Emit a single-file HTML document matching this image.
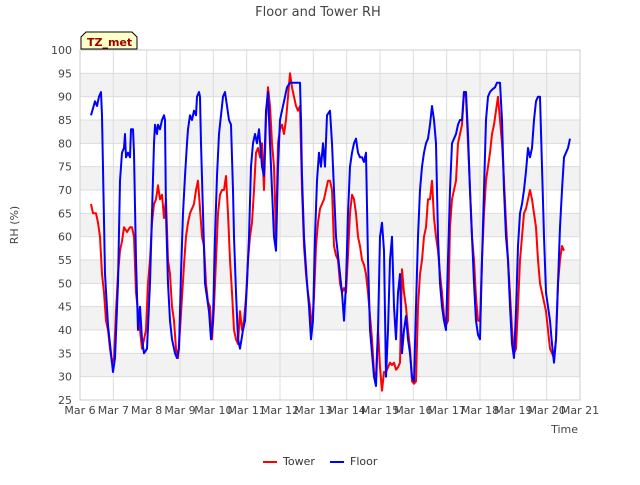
<!DOCTYPE html>
<html><head><meta charset="utf-8"><style>
body{margin:0;background:#fff;font-family:"Liberation Sans","DejaVu Sans",sans-serif}
svg text{font-family:"DejaVu Sans","Liberation Sans",sans-serif}
</style></head><body>
<svg id="chart" width="640" height="480" xmlns="http://www.w3.org/2000/svg">
<text x="318" y="16" text-anchor="middle" font-size="13" fill="#444">Floor and Tower RH</text>
<text x="18" y="225" text-anchor="middle" font-size="11" fill="#444" transform="rotate(-90 18 225)">RH (%)</text>
<text x="578" y="433" text-anchor="end" font-size="11" fill="#444">Time</text>
<g id="grid"></g><g id="series"></g><g id="axes"></g>
<g>
<path d="M81,49 L81,37 L86,32 L132,32 L137,37 L137,49 Z" fill="#ffffc8" stroke="#000" stroke-width="1"/>
<text x="87" y="46" font-size="11" font-weight="bold" fill="#a00000">TZ_met</text></g>
<g>
<line x1="263" y1="462" x2="277" y2="462" stroke="#f00" stroke-width="2"/>
<text x="283" y="465" font-size="11" fill="#333">Tower</text>
<line x1="330" y1="462" x2="344" y2="462" stroke="#00f" stroke-width="2"/>
<text x="350" y="465" font-size="11" fill="#333">Floor</text></g>
</svg>
<script>
const xTickLabels=["Mar 6","Mar 7","Mar 8","Mar 9","Mar 10","Mar 11","Mar 12","Mar 13","Mar 14","Mar 15","Mar 16","Mar 17","Mar 18","Mar 19","Mar 20","Mar 21"];
const yTicks=[25,30,35,40,45,50,55,60,65,70,75,80,85,90,95,100];
const floorT=[.33,.45,.51,.57,.63,.66,.75,.84,.90,.99,1.05,1.14,1.20,1.26,1.32,1.35,1.38,1.44,1.50,1.53,1.59,1.62,1.68,1.74,1.80,1.86,1.92,2.01,2.10,2.16,2.22,2.25,2.31,2.34,2.40,2.46,2.52,2.55,2.58,2.64,2.70,2.76,2.85,2.91,2.97,3.03,3.09,3.15,3.21,3.24,3.30,3.36,3.42,3.48,3.51,3.57,3.60,3.63,3.69,3.75,3.81,3.87,3.93,3.99,4.05,4.11,4.17,4.23,4.29,4.35,4.41,4.47,4.53,4.59,4.62,4.68,4.74,4.80,4.89,4.95,5.01,5.07,5.13,5.19,5.25,5.31,5.37,5.46,5.52,5.58,5.64,5.70,5.76,5.82,5.88,5.94,6.00,6.09,6.15,6.21,6.30,6.45,6.60,6.63,6.66,6.72,6.81,6.87,6.93,6.99,7.05,7.11,7.17,7.23,7.29,7.35,7.41,7.50,7.56,7.62,7.68,7.74,7.80,7.86,7.92,7.98,8.04,8.10,8.16,8.22,8.28,8.34,8.40,8.46,8.52,8.58,8.64,8.70,8.76,8.82,8.88,8.94,9.00,9.06,9.12,9.18,9.24,9.30,9.36,9.42,9.48,9.54,9.60,9.66,9.72,9.78,9.84,9.90,9.96,10.02,10.08,10.14,10.20,10.26,10.32,10.38,10.44,10.50,10.56,10.62,10.68,10.74,10.80,10.86,10.92,10.98,11.04,11.10,11.16,11.22,11.28,11.34,11.40,11.46,11.52,11.58,11.64,11.70,11.76,11.82,11.88,11.94,12.00,12.06,12.12,12.18,12.24,12.30,12.36,12.45,12.51,12.60,12.66,12.72,12.78,12.84,12.90,12.96,13.02,13.08,13.14,13.20,13.26,13.32,13.38,13.44,13.50,13.56,13.62,13.68,13.74,13.80,13.86,13.92,13.98,14.04,14.10,14.16,14.22,14.28,14.34,14.40,14.46,14.52,14.58,14.64,14.70];
const floorV=[86,89,88,90,91,86,52,41,37,31,34,50,72,78,79,82,77,78,77,83,83,78,55,40,45,38,35,36,50,65,80,84,82,84,83,85,86,85,65,50,42,38,35,34,36,52,65,73,80,83,86,85,87,86,90,91,90,80,65,50,47,44,38,42,60,73,82,86,90,91,88,85,84,70,60,48,38,36,40,42,50,60,75,80,82,80,83,75,73,87,91,80,70,60,57,75,85,88,90,92,93,93,93,85,73,60,50,45,38,42,60,72,78,75,80,75,86,87,80,70,60,56,52,48,42,50,65,75,78,80,81,78,77,77,76,78,55,40,35,30,28,40,60,63,57,30,40,55,60,45,38,48,52,35,40,43,38,35,30,29,45,60,70,75,78,80,81,84,88,85,80,60,50,45,42,40,55,70,80,81,82,84,85,85,91,91,82,70,60,50,42,39,38,55,70,85,90,91,91.5,92,93,93,85,70,60,55,45,37,34,44,58,65,67,70,74,79,77,79,85,89,90,90,75,60,48,45,42,37,33,38,50,62,70,77,78,79,81];
const towerT=[.33,.39,.48,.54,.60,.66,.72,.78,.84,.90,.96,1.02,1.08,1.14,1.20,1.26,1.32,1.41,1.50,1.56,1.62,1.68,1.74,1.80,1.86,1.92,1.98,2.04,2.10,2.16,2.22,2.28,2.34,2.40,2.46,2.52,2.58,2.64,2.70,2.76,2.82,2.88,2.94,3.00,3.06,3.12,3.18,3.24,3.30,3.36,3.42,3.48,3.54,3.60,3.66,3.72,3.78,3.84,3.90,3.96,4.02,4.08,4.14,4.20,4.26,4.32,4.38,4.44,4.50,4.56,4.62,4.68,4.74,4.80,4.86,4.92,4.98,5.04,5.10,5.16,5.22,5.28,5.34,5.40,5.46,5.52,5.58,5.64,5.70,5.76,5.82,5.88,5.94,6.00,6.06,6.12,6.18,6.24,6.30,6.36,6.42,6.48,6.54,6.60,6.66,6.72,6.78,6.84,6.90,6.96,7.02,7.08,7.14,7.20,7.26,7.32,7.38,7.44,7.50,7.56,7.62,7.68,7.74,7.80,7.86,7.92,7.98,8.04,8.10,8.16,8.22,8.28,8.34,8.40,8.46,8.52,8.58,8.64,8.70,8.76,8.82,8.88,8.94,9.00,9.06,9.12,9.18,9.24,9.30,9.36,9.42,9.48,9.54,9.60,9.66,9.72,9.78,9.84,9.90,9.96,10.02,10.08,10.14,10.20,10.26,10.32,10.38,10.44,10.50,10.56,10.62,10.68,10.74,10.80,10.86,10.92,10.98,11.04,11.10,11.16,11.22,11.28,11.34,11.40,11.46,11.52,11.58,11.64,11.70,11.76,11.82,11.88,11.94,12.00,12.06,12.12,12.18,12.24,12.30,12.36,12.42,12.48,12.54,12.60,12.66,12.72,12.78,12.84,12.90,12.96,13.02,13.08,13.14,13.20,13.26,13.32,13.38,13.44,13.50,13.56,13.62,13.68,13.74,13.80,13.86,13.92,13.98,14.04,14.10,14.16,14.22,14.28,14.34,14.40,14.46,14.52];
const towerV=[67,65,65,63,60,52,48,42,40,36,33,34,44,52,57,59,62,61,62,62,60,48,44,40,36,38,40,50,55,63,67,68,71,68,69,64,68,55,52,45,42,36,34,40,47,54,60,63,65,66,67,70,72,66,60,58,50,46,45,38,45,55,65,69,70,70,73,65,55,48,40,38,37,44,40,42,47,55,60,63,70,78,79,77,80,70,85,92,88,80,75,60,80,83,84,82,85,90,95,92,90,88,87,88,70,58,52,48,45,40,47,58,63,66,67,68,70,72,72,70,58,56,55,50,48,49,48,56,65,69,68,65,60,58,55,54,52,48,43,38,31,30,40,32,27,31,31,32,33,32.5,33,31.5,32,33,53,48,45,40,36,29,28.5,29,45,52,55,60,62,68,68,72,64,60,57,52,48,43,41,42,62,68,70,72,80,82,84,91,90,80,70,60,55,47,42,42,55,65,72,75,78,82,84,87,90,85,80,72,63,55,48,40,35,36,45,55,60,65,66,68,70,68,65,62,55,50,48,46,44,40,36,35,34,38,50,55,58,57];

const NS="http://www.w3.org/2000/svg";
const L=80,R=580,T=50,B=400;
const xS=d=>L+d*(R-L)/15;
const yS=v=>B-(v-25)*(B-T)/75;
function mk(tag,attrs,parent){const e=document.createElementNS(NS,tag);for(const k in attrs)e.setAttribute(k,attrs[k]);parent.appendChild(e);return e;}
const grid=document.getElementById('grid'),axes=document.getElementById('axes'),series=document.getElementById('series');
for(let i=0;i<yTicks.length-1;i++){
  if(yTicks[i]%10===0){const r=mk('rect',{x:L,y:yS(yTicks[i+1]),width:R-L,height:yS(yTicks[i])-yS(yTicks[i+1]),fill:'#f2f2f2'},grid);
  
  }
}
yTicks.forEach(v=>{
  const l=mk('line',{x1:L,x2:R,y1:yS(v),y2:yS(v),stroke:'#dcdcdc','stroke-width':1},grid);
  
  
  const t=mk('text',{x:L-8,y:yS(v)+4,'text-anchor':'end','font-size':11,fill:'#444'},axes);
  t.textContent=v;
  
  
});
xTickLabels.forEach((s,i)=>{
  const l=mk('line',{x1:xS(i),x2:xS(i),y1:T,y2:B,stroke:'#dcdcdc','stroke-width':1},grid);
  
  
  const t=mk('text',{x:xS(i),y:B+14,'text-anchor':'middle','font-size':11,fill:'#444'},axes);
  t.textContent=s;
  
  
});
const fr=mk('rect',{x:L,y:T,width:R-L,height:B-T,fill:'none',stroke:'#ccc'},axes);


function line(ts,vs,color,name){
  const d=ts.map((t,i)=>(i?'L':'M')+xS(t).toFixed(1)+','+yS(vs[i]).toFixed(1)).join('');
  const p=mk('path',{d:d,fill:'none',stroke:color,'stroke-width':2,'stroke-linejoin':'round'},series);
  
  
}
line(towerT,towerV,'#ff0000','tower-line');
line(floorT,floorV,'#0000ff','floor-line');
</script>
</body></html>
